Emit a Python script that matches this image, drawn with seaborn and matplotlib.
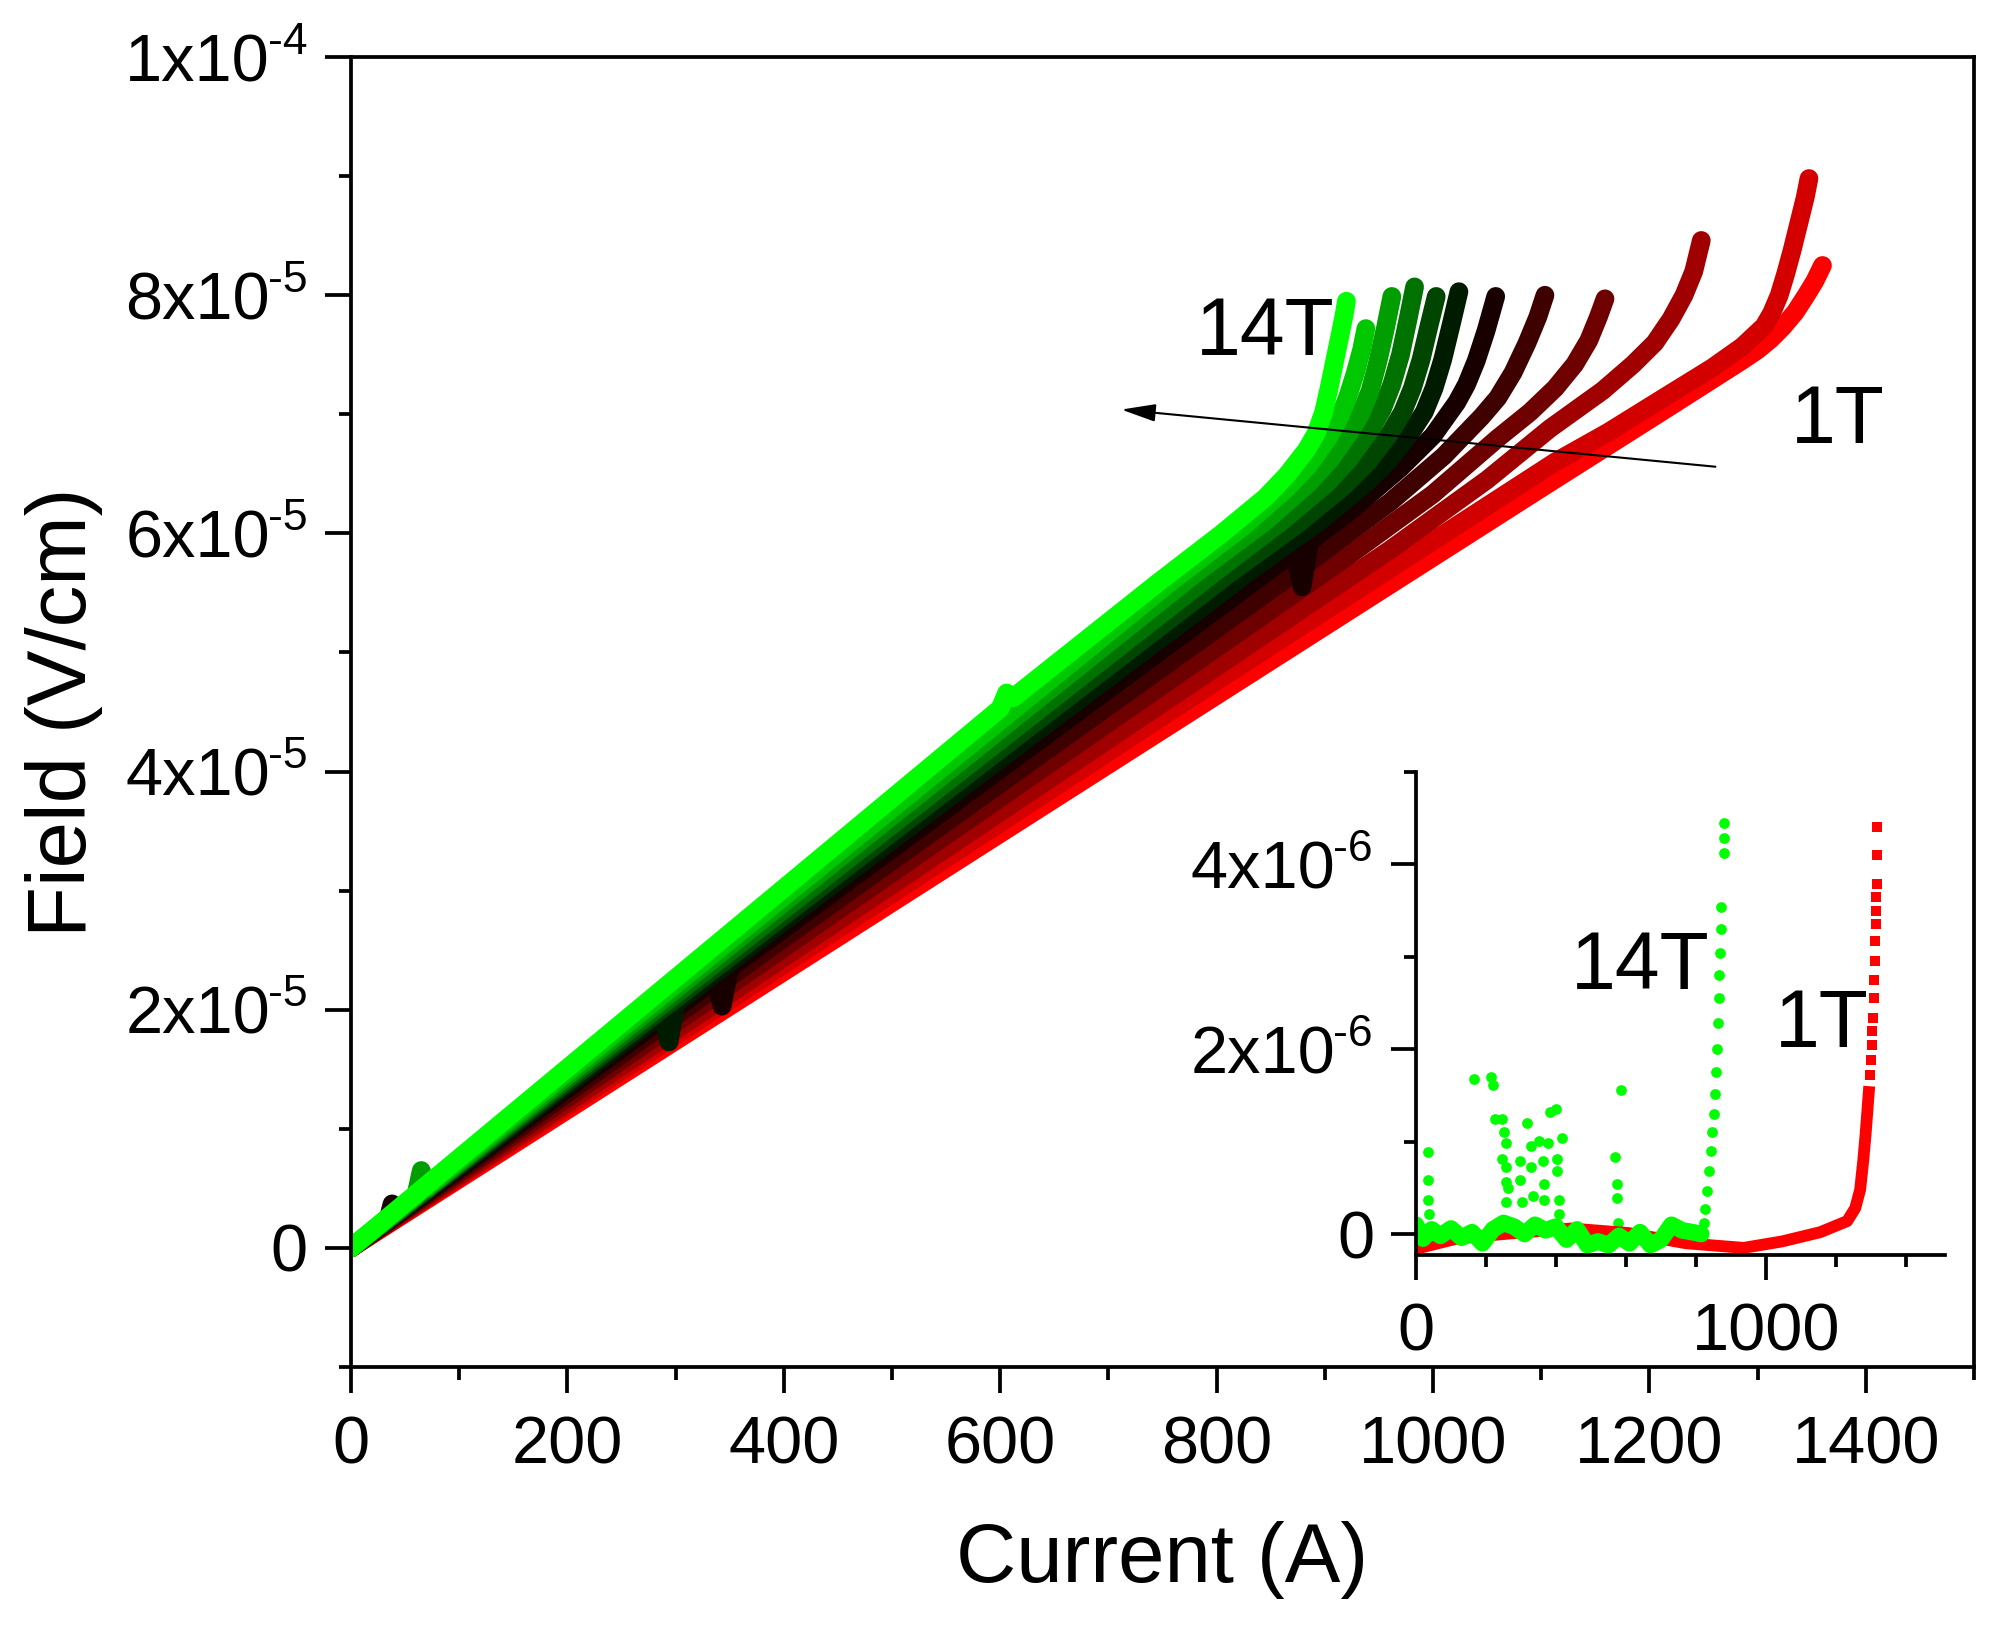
import matplotlib
matplotlib.use("Agg")
import numpy as np
import pandas as pd
import matplotlib.pyplot as plt
import seaborn as sns
from matplotlib.ticker import MultipleLocator, FixedLocator
from matplotlib.transforms import blended_transform_factory, offset_copy

# ---------------- main panel data: current (A), field (1e-5 V/cm) ----------------
curve_names = ["1T", "B2", "B3", "B4", "B5", "B6", "B7", "B8", "B9", "B10", "B11", "14T"]
curve_colors = ["#ff0000", "#d40000", "#a00000", "#6e0000", "#3f0000", "#180000",
                "#001c00", "#004600", "#007200", "#009e00", "#00c800", "#00ff00"]

I_01 = [0, 400, 800, 1000, 1100, 1225, 1287, 1300, 1312, 1323, 1335, 1345, 1353, 1360]
E_01 = [0, 2.32, 4.64, 5.8, 6.38, 7.1, 7.46, 7.54, 7.63, 7.73, 7.86, 8.0, 8.12, 8.25]

I_02 = [0, 400, 800, 1113, 1162, 1217, 1258, 1286, 1306, 1313, 1320, 1326, 1332, 1338, 1344, 1347.5]
E_02 = [0, 2.38, 4.76, 6.6, 6.85, 7.16, 7.39, 7.57, 7.74, 7.85, 8.0, 8.18, 8.38, 8.6, 8.82, 8.98]

I_03 = [0, 400, 800, 960, 1050, 1108, 1157, 1185, 1205, 1220, 1232, 1241, 1248]
E_03 = [0, 2.44, 4.88, 5.86, 6.45, 6.88, 7.2, 7.42, 7.6, 7.8, 8.0, 8.2, 8.46]

I_04 = [0, 400, 800, 920, 1000, 1060, 1090, 1113, 1131, 1144, 1153, 1159]
E_04 = [0, 2.52, 5.04, 5.8, 6.33, 6.8, 7.02, 7.22, 7.42, 7.62, 7.82, 7.97]

I_05 = [0, 400, 800, 880, 960, 1010, 1045, 1060, 1074, 1087, 1097, 1103.5]
E_05 = [0, 2.6, 5.2, 5.72, 6.26, 6.65, 6.98, 7.14, 7.35, 7.6, 7.82, 8.0]

I_06 = [0, 34, 38, 42, 336, 343, 350, 400, 800, 850, 872, 879, 886, 925, 970, 1000,
        1022, 1031, 1040, 1049, 1058]
E_06 = [0, 0.23, 0.37, 0.28, 2.25, 2.03, 2.35, 2.68, 5.36, 5.7, 5.84, 5.55, 5.93, 6.2,
        6.55, 6.82, 7.1, 7.25, 7.45, 7.7, 7.99]

I_07 = [0, 288, 294, 300, 400, 800, 830, 895, 938, 960, 982, 992, 1001, 1009, 1017, 1024]
E_07 = [0, 1.97, 1.73, 2.05, 2.74, 5.47, 5.68, 6.1, 6.42, 6.62, 6.88, 7.02, 7.22, 7.46,
        7.76, 8.03]

I_08 = [0, 400, 810, 875, 918, 940, 961, 972, 981, 989, 996, 1003]
E_08 = [0, 2.79, 5.65, 6.08, 6.4, 6.6, 6.85, 7.02, 7.22, 7.46, 7.73, 7.99]

I_09 = [0, 400, 795, 860, 902, 923, 943, 953, 962, 970, 977, 983]
E_09 = [0, 2.84, 5.65, 6.1, 6.42, 6.63, 6.88, 7.04, 7.25, 7.5, 7.8, 8.07]

I_10 = [0, 60, 65, 70, 400, 780, 845, 885, 905, 923, 933, 942, 949, 956, 962]
E_10 = [0, 0.44, 0.65, 0.5, 2.9, 5.66, 6.1, 6.42, 6.62, 6.85, 7.0, 7.2, 7.44, 7.72, 7.99]

I_11 = [0, 400, 760, 825, 865, 885, 903, 913, 921, 928, 934, 938]
E_11 = [0, 2.95, 5.61, 6.06, 6.38, 6.57, 6.8, 6.96, 7.14, 7.34, 7.54, 7.72]

I_12 = [0, 200, 400, 600, 606, 612, 745, 805, 845, 865, 883, 892, 899, 904, 909, 914,
        918, 920]
E_12 = [0, 1.51, 3.02, 4.53, 4.66, 4.62, 5.58, 6.0, 6.3, 6.49, 6.7, 6.84, 7.02, 7.22,
        7.44, 7.66, 7.84, 7.95]

main_I = [I_01, I_02, I_03, I_04, I_05, I_06, I_07, I_08, I_09, I_10, I_11, I_12]
main_E = [E_01, E_02, E_03, E_04, E_05, E_06, E_07, E_08, E_09, E_10, E_11, E_12]

# ---------------- inset data: current (A), field (1e-6 V/cm) ----------------
in_red_base_I = [0, 116, 250, 443, 609, 772, 936, 1046, 1155, 1232, 1255, 1269, 1278,
                 1285, 1291, 1295]
in_red_base_E = [-0.16, -0.05, 0.0, 0.06, 0.01, -0.1, -0.15, -0.08, 0.02, 0.14, 0.28,
                 0.48, 0.8, 1.1, 1.4, 1.6]
in_red_rise_I = [1297, 1300, 1302, 1304, 1306, 1308, 1309, 1310, 1311, 1313, 1314, 1315,
                 1317, 1317, 1318]
in_red_rise_E = [1.72, 1.88, 2.05, 2.2, 2.34, 2.55, 2.75, 2.95, 3.17, 3.35, 3.5, 3.65,
                 3.79, 4.1, 4.41]

in_grn_base_I = [0, 20, 45, 70, 100, 130, 160, 190, 220, 250, 280, 310, 340, 370, 400, 430,
                 460, 490, 520, 550, 580, 610, 640, 670, 700, 730, 760, 790, 815]
in_grn_base_E = [0.1, -0.05, 0.05, -0.02, 0.06, -0.04, 0.02, -0.1, 0.05, 0.12, 0.08, 0.0,
                 0.1, 0.04, 0.08, -0.06, 0.05, -0.12, -0.08, -0.12, -0.02, -0.1, 0.02,
                 -0.12, -0.06, 0.1, 0.04, 0.02, 0.0]
in_grn_rise_I = [816, 822, 826, 831, 837, 842, 846, 850, 854, 857, 860, 863, 865, 867, 869,
                 871, 872, 879, 879, 881]
in_grn_rise_E = [-0.02, 0.12, 0.27, 0.47, 0.68, 0.9, 1.1, 1.3, 1.51, 1.75, 2.0, 2.28, 2.55,
                 2.8, 3.04, 3.3, 3.54, 4.12, 4.29, 4.45]
in_grn_out_I = [34, 34, 34, 37, 165, 214, 220, 225, 247, 252, 256, 247, 258, 256, 263, 256,
                296, 296, 302, 318, 329, 329, 334, 351, 362, 365, 365, 378, 384, 400, 402,
                402, 409, 409, 416, 569, 573, 575, 577, 586]
in_grn_out_E = [0.89, 0.58, 0.37, 0.22, 1.68, 1.70, 1.61, 1.24, 1.24, 1.10, 0.99, 0.81, 0.72,
                0.56, 0.50, 0.35, 0.79, 0.58, 0.35, 1.20, 0.95, 0.72, 0.41, 1.01, 0.79, 0.54,
                0.37, 0.99, 1.32, 1.35, 0.81, 0.68, 0.37, 0.22, 1.04, 0.83, 0.54, 0.39, 0.12,
                1.56]

HY = "\u2010"  # short hyphen used in the exponents
x_ticks_main = [0, 200, 400, 600, 800, 1000, 1200, 1400]
y_ticks_main = [0, 2e-5, 4e-5, 6e-5, 8e-5, 1e-4]
y_mant_main = ["2", "4", "6", "8", "1"]
y_exp_main = ["5", "5", "5", "5", "4"]
x_ticks_in = [0, 1000]
y_ticks_in = [0, 2e-6, 4e-6]
y_mant_in = ["2", "4"]
y_exp_in = ["6", "6"]

# ---------------- style ----------------
sns.set_theme(style="ticks")
plt.rcParams["font.family"] = ["Liberation Sans", "DejaVu Sans"]

TICK_FS = 48
SUP_FS = 32
LW_AX = 2.7

fig = plt.figure(figsize=(20.02, 16.35), dpi=100)
ax = fig.add_axes([0.1753, 0.1639, 0.8107, 0.8012])

rows = []
for name, Is, Es in zip(curve_names, main_I, main_E):
    for i, e in zip(Is, Es):
        rows.append((name, i, e * 1e-5))
df_main = pd.DataFrame(rows, columns=["curve", "current", "field"])

sns.lineplot(data=df_main, x="current", y="field", hue="curve", hue_order=curve_names,
             palette=dict(zip(curve_names, curve_colors)), sort=False, estimator=None,
             linewidth=13.5, legend=False, ax=ax,
             solid_capstyle="round", solid_joinstyle="round")


def exp_labels(axis, ticks, mants, exps):
    """Tick labels of the form  m x 10^-e, drawn as real text next to the y ticks."""
    trans = blended_transform_factory(axis.transAxes, axis.transData)
    base_tr = offset_copy(trans, fig=fig, x=-81, y=-24, units="dots")
    sup_tr = offset_copy(trans, fig=fig, x=-83, y=3.5, units="dots")
    for t, m, e in zip(ticks, mants, exps):
        axis.text(0, t, m + "x10", transform=base_tr, ha="right", va="baseline",
                  fontsize=TICK_FS, color="black", clip_on=False)
        axis.text(0, t, HY + e, transform=sup_tr, ha="left", va="baseline",
                  fontsize=SUP_FS, color="black", clip_on=False)


ax.set_xlim(0, 1500)
ax.set_ylim(-1e-5, 1e-4)
ax.set_xticks(x_ticks_main, [str(t) for t in x_ticks_main])
ax.set_yticks(y_ticks_main, ["0"] + [""] * 5)
exp_labels(ax, y_ticks_main[1:], y_mant_main, y_exp_main)
ax.xaxis.set_minor_locator(MultipleLocator(100))
ax.yaxis.set_minor_locator(MultipleLocator(1e-5))
ax.tick_params(which="major", direction="out", length=19, width=LW_AX, labelsize=TICK_FS,
               color="black", labelcolor="black")
ax.tick_params(axis="x", which="major", pad=16)
ax.tick_params(axis="y", which="major", pad=12)
ax.tick_params(which="minor", direction="out", length=9, width=LW_AX, color="black")
for sp in ax.spines.values():
    sp.set_linewidth(LW_AX)
    sp.set_color("black")

ax.set_xlabel("Current (A)", fontsize=60, color="black")
ax.set_ylabel("Field (V/cm)", fontsize=60, color="black")
ax.xaxis.set_label_coords(0.5, -0.1473)
ax.xaxis.label.set_verticalalignment("center")
ax.yaxis.set_label_coords(-0.1768, 0.5)
ax.yaxis.label.set_verticalalignment("center")

ax.text(845, 7.5e-5, "14T", fontsize=58, ha="center", va="baseline", color="black")
ax.text(1374, 6.76e-5, "1T", fontsize=58, ha="center", va="baseline", color="black")
ax.annotate("", xy=(712, 7.04e-5), xytext=(1261, 6.56e-5),
            arrowprops=dict(arrowstyle="-|>,head_length=1.05,head_width=0.27",
                            mutation_scale=20, lw=1.5, color="black",
                            shrinkA=0, shrinkB=0))

# ---------------- inset ----------------
axi = fig.add_axes([1416 / 2002, 1 - 1255 / 1635, (1944.5 - 1416) / 2002, (1255 - 772) / 1635])
axi.set_facecolor("none")

df_rb = pd.DataFrame({"current": in_red_base_I, "field": np.array(in_red_base_E) * 1e-6})
df_rr = pd.DataFrame({"current": in_red_rise_I, "field": np.array(in_red_rise_E) * 1e-6})
df_gb = pd.DataFrame({"current": in_grn_base_I, "field": np.array(in_grn_base_E) * 1e-6})
df_gr = pd.DataFrame({"current": in_grn_rise_I, "field": np.array(in_grn_rise_E) * 1e-6})
df_go = pd.DataFrame({"current": in_grn_out_I, "field": np.array(in_grn_out_E) * 1e-6})

sns.lineplot(data=df_rb, x="current", y="field", color="#ff0000", linewidth=8.5, sort=False,
             estimator=None, ax=axi, solid_capstyle="butt", solid_joinstyle="round")
sns.scatterplot(data=df_rr, x="current", y="field", color="#ff0000", marker="s", s=50,
                linewidth=0, ax=axi)
sns.lineplot(data=df_gb, x="current", y="field", color="#00ff00", linewidth=12, sort=False,
             estimator=None, ax=axi, solid_capstyle="round", solid_joinstyle="round")
sns.scatterplot(data=df_gr, x="current", y="field", color="#00ff00", marker="o", s=60,
                linewidth=0, ax=axi)
sns.scatterplot(data=df_go, x="current", y="field", color="#00ff00", marker="o", s=60,
                linewidth=0, ax=axi)

axi.set_xlim(0, 1510)
axi.set_ylim(-0.227e-6, 5e-6)
axi.set_xticks(x_ticks_in, [str(t) for t in x_ticks_in])
axi.set_yticks(y_ticks_in, ["0", "", ""])
exp_labels(axi, y_ticks_in[1:], y_mant_in, y_exp_in)
axi.xaxis.set_minor_locator(MultipleLocator(200))
axi.yaxis.set_minor_locator(FixedLocator([1e-6, 3e-6, 5e-6]))
axi.tick_params(which="major", direction="out", length=18, width=LW_AX, labelsize=TICK_FS,
                color="black", labelcolor="black")
axi.tick_params(axis="x", which="major", pad=16)
axi.tick_params(axis="y", which="major", pad=12)
axi.tick_params(which="minor", direction="out", length=8.5, width=LW_AX, color="black")
axi.spines["top"].set_visible(False)
axi.spines["right"].set_visible(False)
for side in ["left", "bottom"]:
    axi.spines[side].set_linewidth(LW_AX)
    axi.spines[side].set_color("black")
axi.set_xlabel("")
axi.set_ylabel("")

axi.text(640, 2.65e-6, "14T", fontsize=58, ha="center", va="baseline", color="black")
axi.text(1160, 2.02e-6, "1T", fontsize=58, ha="center", va="baseline", color="black")

fig.savefig("out.png", dpi=100, facecolor="white")
